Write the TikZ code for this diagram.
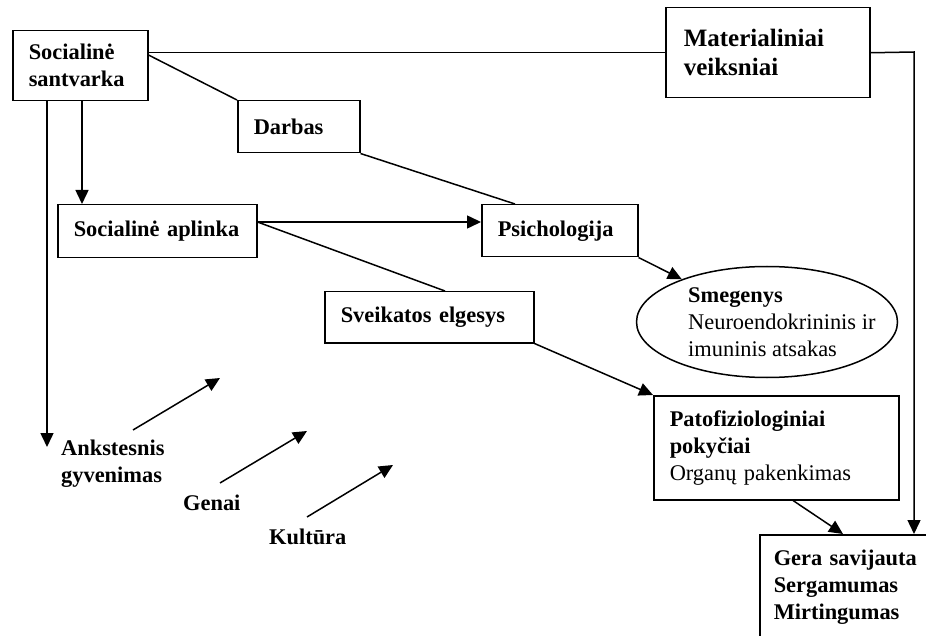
\documentclass[tikz,border=0pt]{standalone}
\usepackage{fontspec}
\setmainfont{Liberation Serif}
\usetikzlibrary{arrows.meta,calc,shapes.geometric}
\tikzset{
  box/.style={draw, line width=1.5pt, inner xsep=16pt, inner ysep=0pt, align=left, anchor=north west,
    font=\fontsize{22.4}{27}\selectfont},
  lbl/.style={align=left, anchor=west, inner sep=0pt, font=\fontsize{22.4}{27}\selectfont\bfseries},
  ln/.style={line width=1.5pt},
  arr/.style={line width=1.5pt, -{Triangle[length=14pt,width=13pt]}}
}
\begin{document}
\begin{tikzpicture}[x=1pt,y=-1pt]
\clip (0,0) rectangle (926,636);
\fill[white] (0,0) rectangle (926,636);

\node[box, text width=103pt, minimum height=70pt] (ss) at (12,30) {\textbf{Socialinė}\\\textbf{santvarka}};
\node[box, text width=168pt, minimum height=90pt, inner xsep=18pt, font=\fontsize{25}{29}\selectfont] (mat) at (665,7) {\textbf{Materialiniai}\\\textbf{veiksniai}\\[-8pt]};
\node[box, text width=90pt, minimum height=52pt] (darb) at (237,100) {\textbf{Darbas}};
\node[box, text width=167pt, minimum height=53pt] (sa) at (57,204) {\textbf{Socialinė aplinka}};
\node[box, text width=124pt, minimum height=52pt] (psy) at (481,204) {\textbf{Psichologija}};
\node[box, text width=177pt, minimum height=51pt] (health) at (324,291) {\textbf{Sveikatos elgesys}};
\node[draw, ellipse, line width=1.5pt, minimum width=261pt, minimum height=111pt] (brain) at (767,322) {};
\node[lbl, font=\fontsize{22.4}{27}\selectfont] (braintxt) at (688,322) {\textbf{Smegenys}\\Neuroendokrininis ir\\imuninis atsakas};
\node[box, text width=213pt, minimum height=104pt] (patho) at (653,395) {\textbf{Patofiziologiniai}\\\textbf{pokyčiai}\\Organų pakenkimas};
\node[box, text width=160pt, minimum height=104pt, inner xsep=14pt] (gera) at (759,534) {\textbf{Gera savijauta}\\\textbf{Sergamumas}\\\textbf{Mirtingumas}};

\node[lbl] (life) at (61,464) {Ankstesnis\\gyvenimas};
\node[lbl] (genai) at (183,503) {Genai};
\node[lbl] (kult) at (269,537) {Kultūra};

% connectors
\coordinate (corner) at (914,52);
\draw[ln] (ss.east |- mat.west) -- (mat.west);
\draw[arr] (mat.east) -- (corner) -- (corner |- gera.north);
\draw[ln] ($(ss.north east)+(0,25)$) -- (darb.north west);
\draw[ln] (darb.south east) -- ($(psy.north west)+(34,0)$);
\coordinate (lifeTip) at (47,447);
\draw[arr] ($(ss.south west)+(35,0)$) -- (lifeTip);
\draw[arr] ($(ss.south west)+(70,0)$) -- ($(sa.north west)+(25,0)$);
\draw[arr] ($(sa.north east)+(0,18)$) -- ($(psy.north west)+(0,18)$);
\draw[ln] ($(sa.north east)+(0,18)$) -- ($(health.north west)+(121,0)$);
\draw[arr] (psy.south east) -- (brain);
\draw[arr] (health.south east) -- (patho.north west);
\draw[arr] ($(patho.south west)+(140,0)$) -- ($(gera.north west)+(84,0)$);

\coordinate (a1s) at (133,430); \coordinate (a1e) at (220,378);
\coordinate (a2s) at (220,483); \coordinate (a2e) at (307,431);
\coordinate (a3s) at (307,517); \coordinate (a3e) at (393,465);
\draw[arr] (a1s) -- (a1e);
\draw[arr] (a2s) -- (a2e);
\draw[arr] (a3s) -- (a3e);
\end{tikzpicture}
\end{document}
